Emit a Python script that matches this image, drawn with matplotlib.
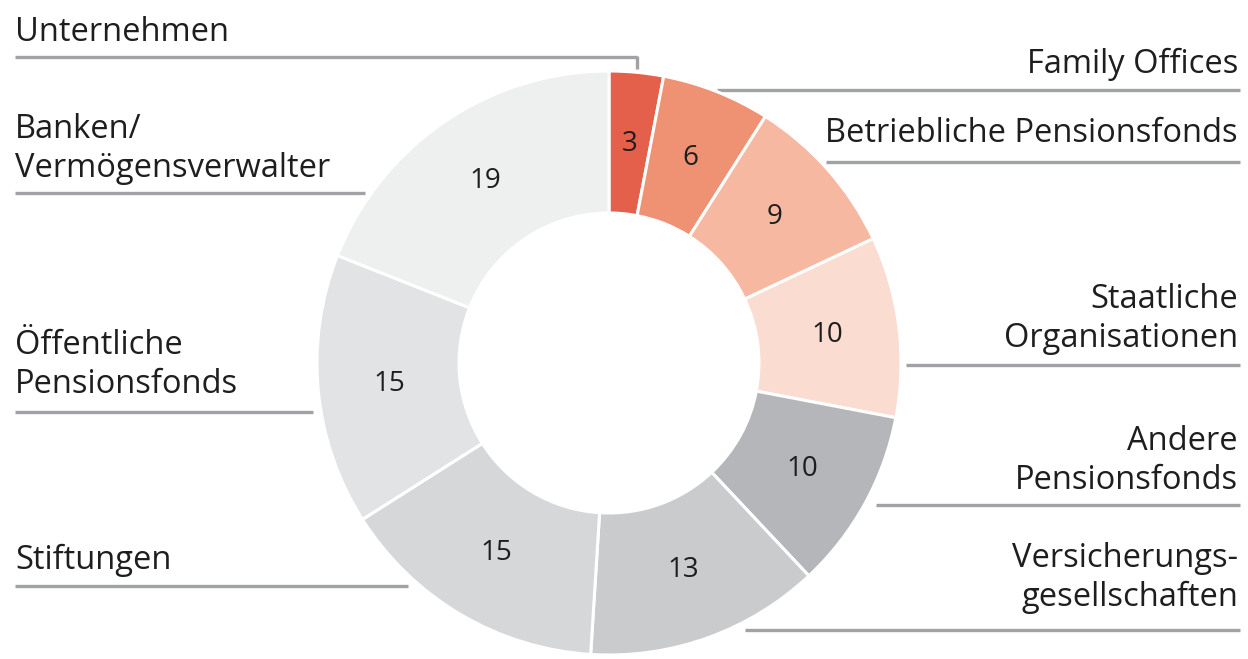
import matplotlib
matplotlib.use("Agg")
import matplotlib.pyplot as plt

# Donut data, clockwise from 12 o'clock
categories = [
    "Unternehmen", "Family Offices", "Betriebliche Pensionsfonds",
    "Staatliche Organisationen", "Andere Pensionsfonds",
    "Versicherungsgesellschaften", "Stiftungen",
    "Öffentliche Pensionsfonds", "Banken/Vermögensverwalter",
]
values = [3, 6, 9, 10, 10, 13, 15, 15, 19]
colors = ["#e5604a", "#ef9273", "#f6b8a1", "#fadcd0", "#b4b6b9",
          "#c9cbcd", "#d6d7d9", "#e2e3e5", "#eeefef"]

W, H = 1248, 659
CX, CY, R, RIN = 609, 363, 292, 150
LINE_C = "#a0a2a5"
TEXT_C = "#1e1e1e"
FONT = "Open Sans"

plt.rcParams["font.family"] = [FONT, "DejaVu Sans"]

fig = plt.figure(figsize=(W / 100, H / 100), dpi=100)
ax = fig.add_axes([0, 0, 1, 1])


def yp(y):
    # pixel row (top-down) -> data y
    return H - y


wedges, _, autotexts = ax.pie(
    values, colors=colors, startangle=90, counterclock=False,
    center=(CX, yp(CY)), radius=R, frame=True,
    autopct=lambda p: "{:.0f}".format(p), pctdistance=0.755,
    wedgeprops=dict(width=R - RIN, edgecolor="white", linewidth=2.2),
    textprops=dict(fontsize=20, color=TEXT_C),
)
ax.set_xlim(0, W)
ax.set_ylim(0, H)
ax.set_aspect("equal")
ax.axis("off")

# (label, last-line baseline, line y, line end on donut side)
left_labels = [
    ("Unternehmen", 41, 57, 637),
    ("Banken/\nVermögensverwalter", 177, 193, 365),
    ("Öffentliche\nPensionsfonds", 393, 412, 313),
    ("Stiftungen", 569, 586, 408),
]
right_labels = [
    ("Family Offices", 73, 90, 717),
    ("Betriebliche Pensionsfonds", 142, 162, 826),
    ("Staatliche\nOrganisationen", 347, 365, 906),
    ("Andere\nPensionsfonds", 489, 505, 876),
    ("Versicherungs-\ngesellschaften", 606, 630, 745),
]

for text, ty, ly, x1 in left_labels:
    ax.text(15, yp(ty), text, ha="left", va="baseline", fontsize=23.5,
            color=TEXT_C, linespacing=1.24)
    ax.plot([15, x1], [yp(ly), yp(ly)], color=LINE_C, lw=2.4,
            solid_capstyle="butt", zorder=0)

for text, ty, ly, x0 in right_labels:
    ax.text(1238, yp(ty), text, ha="right", va="baseline", fontsize=23.5,
            color=TEXT_C, linespacing=1.24, multialignment="right")
    ax.plot([x0, 1240], [yp(ly), yp(ly)], color=LINE_C, lw=2.4,
            solid_capstyle="butt", zorder=0)

# short drop from the Unternehmen line to its wedge
ax.plot([637, 637], [yp(56), yp(69)], color=LINE_C, lw=2.4,
        solid_capstyle="butt", zorder=0)

fig.savefig("out.png", dpi=100)
